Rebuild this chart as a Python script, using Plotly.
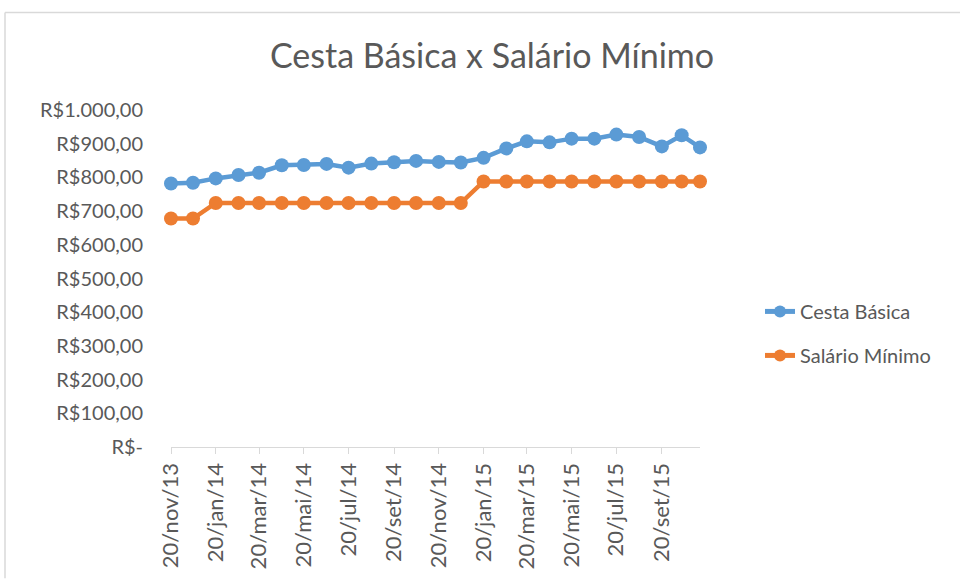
import plotly.graph_objects as go

dates = ["2013-11-20", "2013-12-20", "2014-01-20", "2014-02-20", "2014-03-20",
         "2014-04-20", "2014-05-20", "2014-06-20", "2014-07-20", "2014-08-20",
         "2014-09-20", "2014-10-20", "2014-11-20", "2014-12-20", "2015-01-20",
         "2015-02-20", "2015-03-20", "2015-04-20", "2015-05-20", "2015-06-20",
         "2015-07-20", "2015-08-20", "2015-09-20", "2015-10-17", "2015-11-11"]

cesta_basica = [782, 784, 797, 807, 814, 836, 837, 840, 829, 841,
                845, 849, 846, 844, 858, 886, 907, 904, 915, 915,
                927, 920, 892, 925, 889]

salario_minimo = [678, 678, 724, 724, 724, 724, 724, 724, 724, 724,
                  724, 724, 724, 724, 788, 788, 788, 788, 788, 788,
                  788, 788, 788, 788, 788]

tick_dates = ["2013-11-20", "2014-01-20", "2014-03-20", "2014-05-20",
              "2014-07-20", "2014-09-20", "2014-11-20", "2015-01-20",
              "2015-03-20", "2015-05-20", "2015-07-20", "2015-09-20"]
tick_labels = ["20/nov/13", "20/jan/14", "20/mar/14", "20/mai/14",
               "20/jul/14", "20/set/14", "20/nov/14", "20/jan/15",
               "20/mar/15", "20/mai/15", "20/jul/15", "20/set/15"]

y_ticks = [0, 100, 200, 300, 400, 500, 600, 700, 800, 900, 1000]
y_labels = ["R$-", "R$100,00", "R$200,00", "R$300,00", "R$400,00",
            "R$500,00", "R$600,00", "R$700,00", "R$800,00", "R$900,00",
            "R$1.000,00"]

FONT = "Lato"
TXT = "#595959"

fig = go.Figure()
fig.add_trace(go.Scatter(x=dates, y=cesta_basica, name="Cesta Básica",
                         legendgroup="a",
                         mode="lines+markers",
                         line=dict(color="#5B9BD5", width=4.5),
                         marker=dict(color="#5B9BD5", size=14),
                         cliponaxis=False))
fig.add_trace(go.Scatter(x=dates, y=salario_minimo, name="Salário Mínimo",
                         legendgroup="b",
                         mode="lines+markers",
                         line=dict(color="#ED7D31", width=4.5),
                         marker=dict(color="#ED7D31", size=14),
                         cliponaxis=False))

L, R, T, B = 171, 260, 110, 132
W, H = 960, 581
pw, ph = W - L - R, H - T - B

def px(x):
    return (x - L) / pw

def py(y):
    return (H - B - y) / ph

fig.update_layout(
    width=W, height=H,
    margin=dict(l=L, r=R, t=T, b=B),
    paper_bgcolor="white", plot_bgcolor="white",
    font=dict(family=FONT, color=TXT, size=20),
    title=dict(text="Cesta Básica x Salário Mínimo", x=492 / W, xanchor="center",
               y=1 - 56 / H, yanchor="middle",
               font=dict(family=FONT, size=34, color=TXT)),
    showlegend=True,
    legend=dict(x=px(760), xanchor="left", y=py(293), yanchor="top",
                font=dict(family=FONT, size=20, color=TXT),
                tracegroupgap=15, itemsizing="constant",
                bgcolor="rgba(0,0,0,0)"),
    xaxis=dict(type="date", range=["2013-11-20", "2015-11-11"],
               tickvals=tick_dates, ticktext=tick_labels, tickangle=-90,
               showgrid=False, zeroline=False,
               showline=True, linecolor="#d9d9d9", linewidth=1.3,
               ticks="outside", ticklen=6, tickcolor="#d9d9d9",
               tickfont=dict(family=FONT, size=22, color=TXT)),
    yaxis=dict(range=[0, 1000], tickvals=y_ticks, ticktext=y_labels,
               showgrid=False, zeroline=False, showline=False,
               ticks="", ticklabelstandoff=27,
               tickfont=dict(family=FONT, size=20, color=TXT)),
    shapes=[
        dict(type="line", xref="paper", yref="paper",
             x0=px(5), x1=px(960), y0=py(12), y1=py(12),
             line=dict(color="#d9d9d9", width=1.5)),
        dict(type="line", xref="paper", yref="paper",
             x0=px(5), x1=px(5), y0=py(12), y1=py(581),
             line=dict(color="#d9d9d9", width=1.5)),
    ],
)

fig.write_html("out.html", config={"displayModeBar": False},
               post_script="document.body.style.margin='0';document.body.style.overflow='hidden';")
